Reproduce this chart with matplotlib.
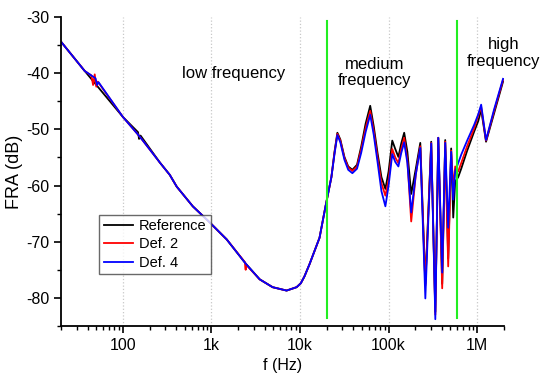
import numpy as np
import matplotlib
matplotlib.use('Agg')
import matplotlib.pyplot as plt
from matplotlib.ticker import FixedLocator, FixedFormatter, LogLocator, MultipleLocator, NullFormatter

plt.rcParams['font.family'] = ['Liberation Sans', 'DejaVu Sans']
plt.rcParams['axes.unicode_minus'] = False

# ── data (f in Hz, FRA in dB) ─────────────────────────────────────────────────
# low-frequency part: the three traces coincide
f_low = [20, 37, 100, 155, 261, 338, 405, 615, 931, 1486, 2432, 3500, 4900,
         7050, 9140, 10200, 11200, 12800, 16600, 19400, 22600]
db_low = [-34.4, -39.6, -47.8, -51.3, -55.9, -58.1, -60.2, -63.7, -66.4, -69.6,
          -73.9, -76.7, -78.1, -78.7, -78.1, -77.4, -76.2, -74.0, -69.3, -63.7, -58.5]

# small mains-hum wiggles in the low band
f_ref_noise = [148, 152, 158]
db_ref_noise = [-50.5, -51.7, -51.1]
f_d2_noise = [44, 46, 48, 50, 52, 2400, 2432, 2460]
db_d2_noise = [-40.4, -42.1, -40.2, -42.4, -41.5, -73.7, -75.0, -74.1]
f_d4_noise = [49, 51, 53]
db_d4_noise = [-40.9, -42.1, -41.6]

# medium + high frequency part
f_mid = [24500, 26400, 28500, 31700, 35000, 39000, 44000, 49000, 55000, 62000,
         68000, 75000, 83000, 92000, 100000, 110000, 119000, 129000, 139000, 150000,
         163000, 180000, 203000, 228000, 260000, 303000, 337000, 364000, 403000, 436000,
         471000, 509000, 537000, 565000, 611000, 661000, 771000, 925000, 1030000, 1110000,
         1260000, 1550000, 1960000]
db_ref = [-54.0, -50.6, -51.8, -54.9, -56.6, -57.2, -56.3, -53.1, -49.0, -45.8,
          -49.5, -54.2, -58.5, -60.6, -57.5, -52.0, -53.5, -54.9, -52.5, -50.6,
          -54.0, -61.5, -57.0, -52.4, -77.5, -52.2, -82.5, -51.5, -77.5, -51.9,
          -73.0, -53.4, -65.7, -59.3, -58.5, -57.0, -53.8, -50.4, -48.5, -46.5,
          -52.2, -47.2, -41.5]
db_def2 = [-54.2, -50.8, -52.0, -55.1, -56.8, -57.4, -56.6, -53.6, -49.8, -46.7,
           -50.3, -55.0, -59.6, -61.8, -59.0, -53.5, -55.0, -56.0, -53.5, -51.5,
           -55.5, -66.4, -58.0, -53.0, -77.8, -52.4, -83.0, -51.5, -78.3, -52.2,
           -74.4, -53.8, -60.5, -56.6, -57.5, -56.0, -53.0, -49.8, -47.5, -46.0,
           -52.0, -46.8, -41.2]
db_def4 = [-54.4, -51.0, -52.3, -55.4, -57.2, -57.8, -57.0, -54.2, -50.5, -47.4,
           -51.0, -55.8, -61.0, -63.7, -60.0, -54.4, -55.8, -56.6, -54.2, -52.3,
           -56.0, -64.8, -58.0, -53.3, -80.1, -52.5, -83.8, -51.5, -75.5, -52.4,
           -67.5, -54.0, -62.5, -57.5, -56.0, -54.5, -52.0, -49.2, -47.3, -45.6,
           -51.9, -46.5, -41.0]

band_edges = [20000, 600000]
x_ticks = [100, 1000, 10000, 100000, 1000000]
x_labels = ['100', '1k', '10k', '100k', '1M']
y_ticks = [-80, -70, -60, -50, -40, -30]


def build(f_noise, db_noise, db_mid):
    f = np.array(f_low + f_noise + f_mid, dtype=float)
    db = np.array(db_low + db_noise + db_mid, dtype=float)
    order = np.argsort(f)
    return f[order], db[order]


fig = plt.figure(figsize=(5.5, 3.79), dpi=100)
ax = fig.add_axes([0.111, 0.140, 0.805, 0.815])

for xt in x_ticks:
    ax.axvline(xt, color='#c8c8c8', linestyle=':', linewidth=0.9, zorder=0)

series = [
    ('Reference', 'black', f_ref_noise, db_ref_noise, db_ref),
    ('Def. 2', '#ff0000', f_d2_noise, db_d2_noise, db_def2),
    ('Def. 4', '#0000ff', f_d4_noise, db_d4_noise, db_def4),
]
for label, color, fn, dn, dm in series:
    f, db = build(fn, dn, dm)
    ax.plot(f, db, color=color, linewidth=1.3, label=label)

for fe in band_edges:
    ax.plot([fe, fe], [-30.7, -83.6], color='#22ee22', linewidth=1.5, zorder=5)

ax.set_xscale('log')
ax.set_xlim(20, 2e6)
ax.set_ylim(-85, -30)

ax.xaxis.set_major_locator(FixedLocator(x_ticks))
ax.xaxis.set_major_formatter(FixedFormatter(x_labels))
ax.xaxis.set_minor_locator(LogLocator(base=10, subs=np.arange(2, 10)))
ax.xaxis.set_minor_formatter(NullFormatter())
ax.yaxis.set_major_locator(FixedLocator(y_ticks))
ax.yaxis.set_minor_locator(MultipleLocator(5))

for side in ('top', 'right'):
    ax.spines[side].set_visible(False)
for side in ('left', 'bottom'):
    ax.spines[side].set_linewidth(1.3)
ax.tick_params(which='major', direction='out', length=5, width=1.2, labelsize=11.5)
ax.tick_params(which='minor', direction='out', length=3, width=1.0)

ax.set_xlabel('f (Hz)', fontsize=11.5, labelpad=4)
ax.set_ylabel('FRA (dB)', fontsize=13, labelpad=2)

ax.text(1780, -40.0, 'low frequency', fontsize=12, ha='center', va='center')
ax.text(69000, -39.9, 'medium\nfrequency', fontsize=12, ha='center', va='center',
        linespacing=1.1)
ax.text(2e6, -36.4, 'high\nfrequency', fontsize=12, ha='center', va='center',
        linespacing=1.1)

leg = ax.legend(loc='lower left', bbox_to_anchor=(0.086, 0.168), borderaxespad=0,
                fontsize=10.5, frameon=True, fancybox=False, handlelength=2.0,
                handletextpad=0.4, labelspacing=0.3, borderpad=0.3)
leg.get_frame().set_edgecolor('#444444')
leg.get_frame().set_linewidth(1.0)

fig.savefig('out.png', dpi=100)
